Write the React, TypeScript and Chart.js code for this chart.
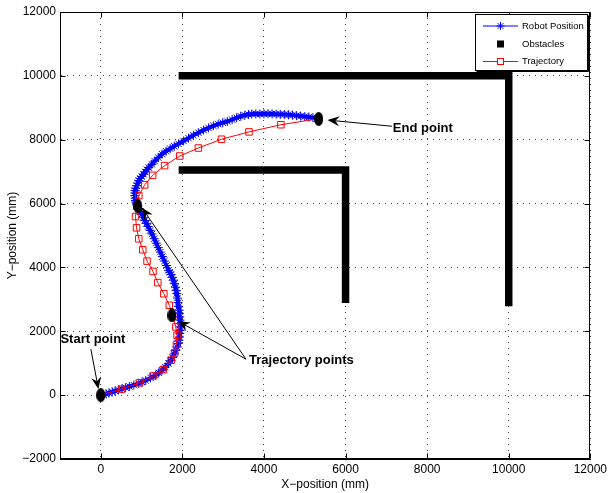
import React, { useEffect, useRef } from "react";
import { Chart, registerables } from "chart.js";

Chart.register(...registerables);

const FONT = '"Liberation Sans", Arial, Helvetica, sans-serif';

// Axis ticks
const xTickValues = [0, 2000, 4000, 6000, 8000, 10000, 12000];
const xTickLabels = ["0", "2000", "4000", "6000", "8000", "10000", "12000"];
const yTickValues = [-2000, 0, 2000, 4000, 6000, 8000, 10000, 12000];
const yTickLabels = ["\u22122000", "0", "2000", "4000", "6000", "8000", "10000", "12000"];

// Robot position (blue stars)
const robotX = [
  0, 60, 130, 200, 280, 350, 430, 520, 610, 700, 810, 930, 1010, 1100, 1220, 1340, 1420, 1500, 1580, 1660,
  1710, 1760, 1800, 1840, 1870, 1900, 1915, 1925, 1937, 1945, 1947, 1946,
  1942, 1935, 1928, 1920, 1908, 1895, 1880, 1865, 1848, 1830, 1805, 1780, 1750, 1720, 1690, 1660, 1610, 1560,
  1510, 1460, 1410, 1360, 1310, 1256, 1210, 1160, 1120, 1078, 1040, 1000, 965, 932, 905, 880, 865, 851, 842, 835,
  836, 840, 858, 880, 905, 930, 965, 1000, 1045, 1090, 1130, 1175,
  1250, 1320, 1410, 1500, 1600, 1700, 1800, 1905, 2030, 2150, 2270, 2392, 2520, 2640, 2760, 2878, 2990, 3100,
  3220, 3330, 3430, 3530, 3620, 3700, 3800, 3900, 4000, 4100, 4200, 4300, 4400, 4500, 4600, 4700, 4800, 4900,
  5000, 5100, 5200, 5300,
];
const robotY = [
  0, 15, 40, 70, 100, 130, 165, 200, 235, 270, 315, 365, 410, 460, 540, 625, 700, 780, 880, 990,
  1080, 1180, 1290, 1400, 1510, 1620, 1720, 1820, 1930, 2030, 2140, 2240,
  2350, 2450, 2560, 2660, 2780, 2900, 3040, 3180, 3280, 3380, 3490, 3600, 3690, 3780, 3850, 3910, 4060, 4200,
  4340, 4480, 4620, 4760, 4900, 5050, 5160, 5280, 5380, 5470, 5570, 5660, 5750, 5835, 5910, 5980, 6040, 6095, 6170, 6250,
  6330, 6406, 6480, 6560, 6640, 6720, 6790, 6850, 6920, 6990, 7060, 7130,
  7230, 7330, 7440, 7550, 7640, 7720, 7795, 7870, 7960, 8050, 8140, 8220, 8300, 8370, 8435, 8490, 8530, 8570,
  8630, 8690, 8735, 8765, 8790, 8805, 8810, 8805, 8810, 8815, 8808, 8800, 8795, 8790, 8780, 8770, 8755, 8740,
  8725, 8710, 8690, 8670,
];

// Planned trajectory (red squares)
const trajX = [
  0, 510, 950, 1280, 1530, 1725, 1810, 1855, 1870, 1840, 1760, 1680, 1545, 1398, 1280, 1134,
  1029, 932, 876, 851, 885, 932, 1075, 1272, 1564, 1937, 2392, 2960, 3633, 4415, 5340,
];
const trajY = [
  0, 190, 385, 600, 800, 1095, 1325, 1585, 1875, 2135, 2475, 2815, 3175, 3525, 3875, 4197,
  4553, 4896, 5240, 5594, 5920, 6250, 6585, 6884, 7188, 7490, 7740, 8015, 8245, 8469, 8660,
];

// Obstacles (walls)
const wallOuterX = [2000, 10000, 10000];
const wallOuterY = [10000, 10000, 2900];
const wallInnerX = [2000, 6000, 6000];
const wallInnerY = [7050, 7050, 3000];

// Highlighted points (black ellipses)
const keyX = [0, 1745, 910, 5340];
const keyY = [0, 2500, 5920, 8650];

// Annotations (data coordinates)
const noteTexts = ["Start point", "Trajectory points", "End point"];
const noteX = [-990, 3635, 7160];
const noteY = [1750, 1078, 8353];
const arrowFromX = [-243, 3560, 3560, 7137];
const arrowFromY = [1440, 1125, 1125, 8422];
const arrowToX = [-58, 1005, 1890, 5556];
const arrowToY = [190, 5875, 2320, 8616];

const legendLabels = ["Robot Position", "Obstacles", "Trajectory"];

const zip = (xs: number[], ys: number[]) => xs.map((x, i) => ({ x, y: ys[i] }));

function drawArrow(ctx: CanvasRenderingContext2D, x1: number, y1: number, x2: number, y2: number) {
  const ang = Math.atan2(y2 - y1, x2 - x1);
  const c = Math.cos(ang), s = Math.sin(ang);
  const L = 12, W = 5, notch = 8;
  ctx.save();
  ctx.strokeStyle = "#000";
  ctx.lineWidth = 1;
  ctx.beginPath();
  ctx.moveTo(x1, y1);
  ctx.lineTo(x2 - notch * c, y2 - notch * s);
  ctx.stroke();
  ctx.fillStyle = "#000";
  ctx.beginPath();
  ctx.moveTo(x2, y2);
  ctx.lineTo(x2 - L * c - W * s, y2 - L * s + W * c);
  ctx.lineTo(x2 - notch * c, y2 - notch * s);
  ctx.lineTo(x2 - L * c + W * s, y2 - L * s - W * c);
  ctx.closePath();
  ctx.fill();
  ctx.restore();
}

const matlabPlugin = {
  id: "matlabDecor",
  afterDraw(chart: any) {
    const ctx: CanvasRenderingContext2D = chart.ctx;
    const area = chart.chartArea;
    const xs = chart.scales.x;
    const ys = chart.scales.y;
    const L = Math.round(area.left) + 0.5;
    const R = Math.round(area.right) - 0.5;
    const T = Math.round(area.top) + 0.5;
    const B = Math.round(area.bottom) - 0.5;
    ctx.save();
    ctx.strokeStyle = "#000";
    ctx.lineWidth = 1;
    ctx.setLineDash([]);
    ctx.strokeRect(L, T, R - L, B - T);
    ctx.beginPath();
    xTickValues.forEach((v) => {
      const px = Math.round(xs.getPixelForValue(v)) + 0.5;
      ctx.moveTo(px, B); ctx.lineTo(px, B - 5);
      ctx.moveTo(px, T); ctx.lineTo(px, T + 5);
    });
    yTickValues.forEach((v) => {
      const py = Math.round(ys.getPixelForValue(v)) + 0.5;
      ctx.moveTo(L, py); ctx.lineTo(L + 5, py);
      ctx.moveTo(R, py); ctx.lineTo(R - 5, py);
    });
    ctx.stroke();

    for (let i = 0; i < arrowFromX.length; i++) {
      drawArrow(
        ctx,
        xs.getPixelForValue(arrowFromX[i]), ys.getPixelForValue(arrowFromY[i]),
        xs.getPixelForValue(arrowToX[i]), ys.getPixelForValue(arrowToY[i])
      );
    }
    ctx.fillStyle = "#000";
    ctx.font = `bold 13px ${FONT}`;
    ctx.textAlign = "left";
    ctx.textBaseline = "middle";
    noteTexts.forEach((t, i) => {
      ctx.fillText(t, xs.getPixelForValue(noteX[i]), ys.getPixelForValue(noteY[i]));
    });

    // legend
    const lx = Math.round(area.right) - 114.5;
    const ly = Math.round(area.top) + 2.5;
    const lw = 112, lh = 56;
    ctx.fillStyle = "#fff";
    ctx.fillRect(lx, ly, lw, lh);
    ctx.strokeStyle = "#000";
    ctx.lineWidth = 1;
    ctx.strokeRect(lx, ly, lw, lh);
    ctx.beginPath();
    ctx.moveTo(lx + lw + 1, ly + 1); ctx.lineTo(lx + lw + 1, ly + lh + 1); ctx.lineTo(lx + 1, ly + lh + 1);
    ctx.stroke();
    const rows = [ly + 11.5, ly + 29.5, ly + 47];
    const lineX1 = lx + 7.5, lineX2 = lx + 42.5, mk = lx + 25;
    ctx.strokeStyle = "#0000ff";
    ctx.beginPath();
    ctx.moveTo(lineX1, rows[0]); ctx.lineTo(lineX2, rows[0]);
    const r = 4;
    ctx.moveTo(mk - r, rows[0]); ctx.lineTo(mk + r, rows[0]);
    ctx.moveTo(mk, rows[0] - r); ctx.lineTo(mk, rows[0] + r);
    const d = r * 0.7071;
    ctx.moveTo(mk - d, rows[0] - d); ctx.lineTo(mk + d, rows[0] + d);
    ctx.moveTo(mk - d, rows[0] + d); ctx.lineTo(mk + d, rows[0] - d);
    ctx.stroke();
    ctx.fillStyle = "#000";
    ctx.fillRect(mk - 3.5, rows[1] - 3.5, 7, 7);
    ctx.strokeStyle = "#ff0000";
    ctx.beginPath();
    ctx.moveTo(lineX1, rows[2]); ctx.lineTo(mk - 3, rows[2]);
    ctx.moveTo(mk + 3, rows[2]); ctx.lineTo(lineX2, rows[2]);
    ctx.stroke();
    ctx.strokeRect(mk - 3, rows[2] - 3, 6, 6);
    ctx.fillStyle = "#000";
    ctx.font = `9.5px ${FONT}`;
    ctx.textAlign = "left";
    ctx.textBaseline = "middle";
    legendLabels.forEach((t, i) => ctx.fillText(t, lx + 46.5, rows[i]));
    ctx.restore();
  },
};

export default function App() {
  const ref = useRef<HTMLCanvasElement>(null);
  useEffect(() => {
    document.body.style.margin = "0";
    const ell = document.createElement("canvas");
    ell.width = 9;
    ell.height = 14;
    const ec = ell.getContext("2d")!;
    ec.fillStyle = "#000";
    ec.beginPath();
    ec.ellipse(4.5, 7, 4.5, 7, 0, 0, Math.PI * 2);
    ec.fill();

    const gridCommon = {
      color: "#444",
      lineWidth: 1,
      drawTicks: false,
      tickLength: 0,
    };
    const chart = new Chart(ref.current!, {
      type: "scatter",
      data: {
        datasets: [
          {
            label: "Key points",
            data: zip(keyX, keyY),
            pointStyle: ell as any,
            pointRadius: 5,
            showLine: false,
            order: 0,
          },
          {
            label: legendLabels[2],
            data: zip(trajX, trajY),
            showLine: true,
            borderColor: "#ff0000",
            borderWidth: 1,
            pointStyle: "rect",
            pointRadius: 4.6,
            pointBorderWidth: 1,
            pointBorderColor: "#ff0000",
            pointBackgroundColor: "rgba(0,0,0,0)",
            order: 1,
          },
          {
            label: legendLabels[0],
            data: zip(robotX, robotY),
            showLine: true,
            borderColor: "#0000ff",
            borderWidth: 4,
            pointStyle: "star",
            pointRadius: 4.5,
            pointBorderWidth: 1,
            pointBorderColor: "#0000ff",
            pointBackgroundColor: "#0000ff",
            order: 2,
          },
          {
            label: legendLabels[1],
            data: zip(wallOuterX, wallOuterY),
            showLine: true,
            borderColor: "#000",
            borderWidth: 7.5,
            borderJoinStyle: "miter",
            borderCapStyle: "square",
            pointRadius: 0,
            order: 3,
          },
          {
            label: legendLabels[1] + " ",
            data: zip(wallInnerX, wallInnerY),
            showLine: true,
            borderColor: "#000",
            borderWidth: 7.5,
            borderJoinStyle: "miter",
            borderCapStyle: "square",
            pointRadius: 0,
            order: 3,
          },
        ] as any,
      },
      options: {
        animation: false,
        responsive: false,
        devicePixelRatio: 1,
        events: [],
        layout: { padding: { left: 0, top: 12, right: 16, bottom: 0 } },
        plugins: { legend: { display: false }, tooltip: { enabled: false } },
        scales: {
          x: {
            type: "linear",
            min: -1000,
            max: 12000,
            afterBuildTicks: (s: any) => {
              s.ticks = xTickValues.map((v) => ({ value: v }));
            },
            afterFit: (s: any) => {
              s.height = 34;
            },
            grid: gridCommon,
            border: { display: true, color: "#000", width: 1, dash: [1, 5] },
            ticks: {
              padding: 3,
              color: "#000",
              font: { family: FONT, size: 12 },
              maxRotation: 0,
              autoSkip: false,
              callback: (v: any) => {
                const i = xTickValues.indexOf(Number(v));
                return i >= 0 ? xTickLabels[i] : "";
              },
            },
            title: {
              display: true,
              text: "X\u2212position (mm)",
              color: "#000",
              font: { family: FONT, size: 12 },
              padding: { top: 0, bottom: 1 },
            },
          },
          y: {
            type: "linear",
            min: -2000,
            max: 12000,
            afterBuildTicks: (s: any) => {
              s.ticks = yTickValues.map((v) => ({ value: v }));
            },
            afterFit: (s: any) => {
              s.width = 60;
            },
            grid: gridCommon,
            border: { display: true, color: "#000", width: 1, dash: [1, 5] },
            ticks: {
              padding: 4,
              color: "#000",
              font: { family: FONT, size: 12 },
              autoSkip: false,
              callback: (v: any) => {
                const i = yTickValues.indexOf(Number(v));
                return i >= 0 ? yTickLabels[i] : "";
              },
            },
            title: {
              display: true,
              text: "Y\u2212position (mm)",
              color: "#000",
              font: { family: FONT, size: 12 },
              padding: { top: 5, bottom: 0 },
            },
          },
        },
      } as any,
      plugins: [matlabPlugin],
    });
    return () => chart.destroy();
  }, []);
  return (
    <div style={{ position: "fixed", left: 0, top: 0, width: 610, height: 493, background: "#fff" }}>
      <canvas ref={ref} width={610} height={493} style={{ display: "block" }} />
    </div>
  );
}
